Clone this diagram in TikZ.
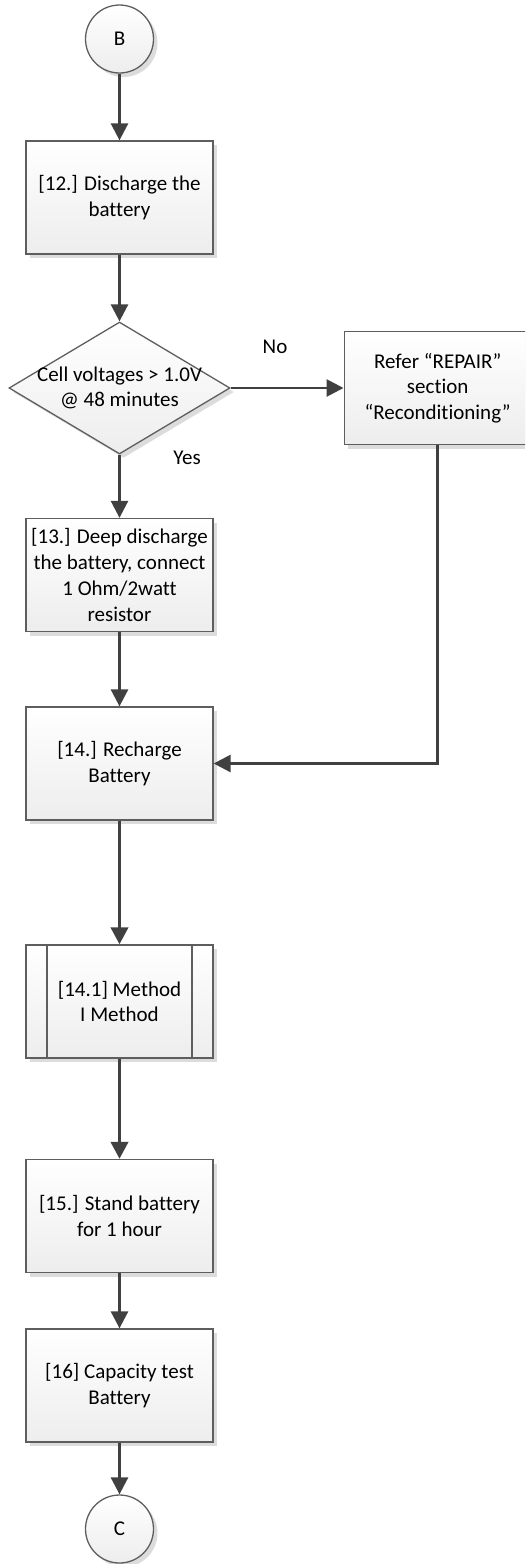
\documentclass[tikz,border=0pt]{standalone}
\usepackage{fontspec}
\setmainfont{Carlito}[RawFeature={-liga;-dlig;-calt}]
\usetikzlibrary{arrows.meta,shapes.geometric,shadows,calc}

\definecolor{linecol}{HTML}{404040}
\definecolor{edgecol}{HTML}{5E5E5E}
\definecolor{shadecol}{HTML}{DCDCDC}
\definecolor{bottomfill}{HTML}{EDEDED}

\tikzset{
  base/.style={draw=edgecol, line width=1.3pt, top color=white, bottom color=bottomfill,
    general shadow={fill=shadecol, shadow xshift=4pt, shadow yshift=-4pt},
    align=center, inner sep=0pt, font=\fontsize{21}{25.7}\selectfont},
  procbox/.style={base, rectangle, minimum width=187pt, minimum height=113pt},
  decision/.style={base, diamond, aspect=1.674, minimum width=221pt, minimum height=132pt},
  connector/.style={base, circle, minimum size=68pt},
  flow/.style={draw=linecol, line width=2.7pt, -{Triangle[length=17pt,width=17pt]}},
  heavyflow/.style={flow, line width=3.8pt},
  lbl/.style={font=\fontsize{21}{25.7}\selectfont, inner sep=0pt}
}

\begin{document}
\begin{tikzpicture}[x=1pt, y=-1pt]
  \useasboundingbox (0,0) rectangle (525,1564);
  \clip (0,0) rectangle (525,1564);

  % main column
  \node[connector] (b) at (119.5,39) {B};
  \node[procbox] (s12) at (119.5,197.5) {[12.] Discharge the\\battery};
  \node[decision] (d1) at (119.5,388) {};
  \node[lbl, align=center] (d1txt) at (119.5,388) {Cell voltages > 1.0V\\@ 48 minutes};
  \node[procbox] (s13) at (119.5,575) {[13.] Deep discharge\\the battery, connect\\1 Ohm/2watt\\resistor};
  \node[procbox] (s14) at (119.5,763.5) {[14.] Recharge\\Battery};
  \node[procbox] (s141) at (119.5,1001.5) {[14.1] Method\\I Method};
  \draw[draw=edgecol, line width=1.3pt]
    ($(s141.north west)+(21.7,0)$) -- ($(s141.south west)+(21.7,0)$)
    ($(s141.north east)+(-21.7,0)$) -- ($(s141.south east)+(-21.7,0)$);
  \node[procbox] (s15) at (119.5,1216) {[15.] Stand battery\\for 1 hour};
  \node[procbox] (s16) at (119.5,1385.5) {[16] Capacity test\\Battery};
  \node[connector] (c) at (119.5,1529) {C};

  % side branch
  \node[procbox] (rep) at (437.7,388) {Refer “REPAIR”\\section\\“Reconditioning”};

  % branch labels
  \node[lbl] (no) at (275,347) {No};
  \node[lbl] (yes) at (187,458) {Yes};

  % connectors
  \draw[flow] (b) -- (s12);
  \draw[flow] (s12) -- (d1.north);
  \draw[flow] (d1.east) -- (rep.west);
  \draw[flow] (d1.south) -- (s13);
  \draw[flow] (s13) -- (s14);
  \draw[flow] (rep.south) |- (s14.east);
  \draw[heavyflow] (s14) -- (s141);
  \draw[heavyflow] (s141) -- (s15);
  \draw[flow] (s15) -- (s16);
  \draw[flow] (s16) -- (c);
\end{tikzpicture}
\end{document}
